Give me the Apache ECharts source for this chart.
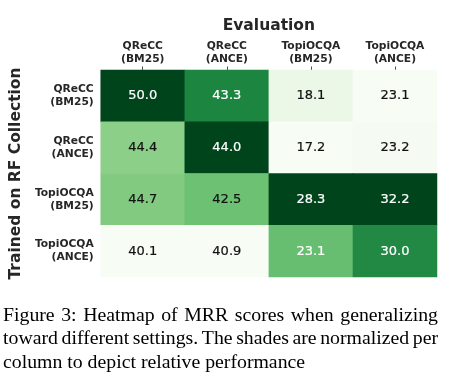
<!DOCTYPE html>
<html><head><meta charset="utf-8">
<script src="https://cdn.jsdelivr.net/npm/echarts@6/dist/echarts.min.js"></script>
<style>html,body{margin:0;padding:0;background:#fff}#c{width:454px;height:383px}</style>
</head><body><div id="c"></div>
<script>
// ---- data ----
const evalCategories = ['QReCC\n(BM25)', 'QReCC\n(ANCE)', 'TopiOCQA\n(BM25)', 'TopiOCQA\n(ANCE)'];
const trainCategories = ['QReCC\n(BM25)', 'QReCC\n(ANCE)', 'TopiOCQA\n(BM25)', 'TopiOCQA\n(ANCE)'];
const rowQReCCBM25 = [50.0, 43.3, 18.1, 23.1];
const rowQReCCANCE = [44.4, 44.0, 17.2, 23.2];
const rowTopiBM25 = [44.7, 42.5, 28.3, 32.2];
const rowTopiANCE = [40.1, 40.9, 23.1, 30.0];
const xTitle = 'Evaluation';
const yTitle = 'Trained on RF Collection';
const captionLines = [
  'Figure 3: Heatmap of MRR scores when generalizing',
  'toward different settings. The shades are normalized per',
  'column to depict relative performance'
];

const rows = [rowQReCCBM25, rowQReCCANCE, rowTopiBM25, rowTopiANCE];
const greens = ['#f7fcf5','#e5f5e0','#c7e9c0','#a1d99b','#74c476','#41ab5d','#238b45','#006d2c','#00441b'];

// per-column normalisation
const colMin = evalCategories.map((_, j) => Math.min(...rows.map(r => r[j])));
const colMax = evalCategories.map((_, j) => Math.max(...rows.map(r => r[j])));
const data = [];
rows.forEach((r, i) => r.forEach((v, j) => {
  const n = (v - colMin[j]) / (colMax[j] - colMin[j]);
  const c = n > 0.525 ? '#ffffff' : '#111111';
  data.push({
    value: [j, i, v, n],
    label: { color: c, textBorderColor: c, textBorderWidth: 0.2 }
  });
}));

// caption with justified lines
const capFont = '19.8px "Liberation Serif"';
const capLeft = 3, capRight = 438;
const mctx = document.createElement('canvas').getContext('2d');
mctx.font = capFont;
const graphics = [];
captionLines.forEach((line, li) => {
  const y = 316 + li * 23.3;
  const justify = li < captionLines.length - 1;
  if (!justify) {
    graphics.push({ type: 'text', x: capLeft, y: y, style: { text: line, font: capFont, fill: '#000', textVerticalAlign: 'middle' } });
    return;
  }
  const words = line.split(' ');
  const widths = words.map(w => mctx.measureText(w).width);
  const total = widths.reduce((a, b) => a + b, 0);
  const gap = (capRight - capLeft - total) / (words.length - 1);
  let x = capLeft;
  words.forEach((w, k) => {
    graphics.push({ type: 'text', x: x, y: y, style: { text: w, font: capFont, fill: '#000', textVerticalAlign: 'middle' } });
    x += widths[k] + gap;
  });
});

const chart = echarts.init(document.getElementById('c'), null, { renderer: 'canvas' });
const labelFont = { fontFamily: 'DejaVu Sans', fontWeight: 'bold', fontSize: 10.7, color: '#262626', lineHeight: 13 };
chart.setOption({
  animation: false,
  backgroundColor: '#ffffff',
  grid: { left: 92, right: 17, top: 70, bottom: 106 },
  xAxis: {
    type: 'category', position: 'top', data: evalCategories,
    name: xTitle, nameLocation: 'middle', nameGap: 36,
    nameTextStyle: { fontFamily: 'DejaVu Sans', fontWeight: 'bold', fontSize: 15.5, color: '#262626' },
    axisLine: { show: false },
    axisTick: { show: true, length: 3.5, alignWithLabel: true, lineStyle: { color: '#262626', width: 0.8 } },
    axisLabel: Object.assign({ margin: 4 }, labelFont),
    splitArea: { show: false }
  },
  yAxis: {
    type: 'category', inverse: true, data: trainCategories,
    name: yTitle, nameLocation: 'middle', nameGap: 72, nameRotate: 90,
    nameTextStyle: { fontFamily: 'DejaVu Sans', fontWeight: 'bold', fontSize: 15.5, color: '#262626' },
    axisLine: { show: false },
    axisTick: { show: false },
    axisLabel: Object.assign({ margin: 7, align: 'right' }, labelFont)
  },
  visualMap: { show: false, dimension: 3, min: 0, max: 1, inRange: { color: greens } },
  series: [{
    type: 'heatmap', data: data,
    itemStyle: { borderWidth: 0 },
    label: {
      show: true, fontFamily: 'DejaVu Sans', fontSize: 13,
      formatter: p => p.value[2].toFixed(1)
    },
    emphasis: { disabled: true }
  }],
  graphic: graphics
});
</script>
</body></html>
